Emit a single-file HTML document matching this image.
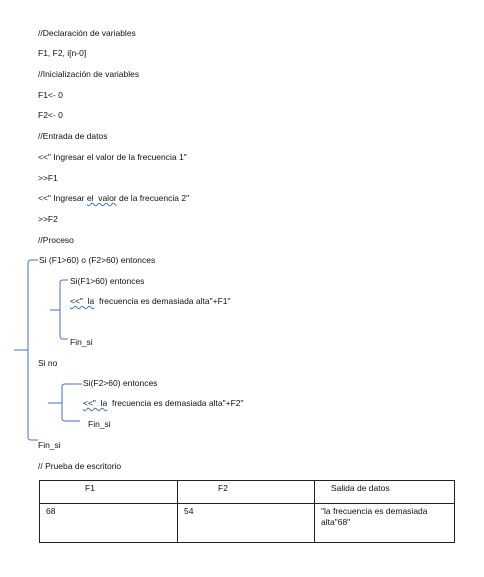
<!DOCTYPE html>
<html><head><style>
body{margin:0;width:484px;height:577px;background:#fff;position:relative;font-family:"Liberation Sans",sans-serif;font-size:8.5px;color:#111;overflow:hidden}
.t{position:absolute;white-space:nowrap;line-height:10px}
.w{text-decoration:underline wavy #4472c4;text-decoration-thickness:1px}
table{position:absolute;left:39px;top:480px;width:415px;height:63px;border-collapse:collapse;table-layout:fixed}
td{border:1px solid #222;vertical-align:top;padding:2px 6px;font-size:8.5px;line-height:11px}
</style></head><body>
<div class="t" style="left:38px;top:28px">//Declaración de variables</div>
<div class="t" style="left:38px;top:48px">F1, F2, i[n-0]</div>
<div class="t" style="left:38px;top:69px">//Inicialización de variables</div>
<div class="t" style="left:38px;top:90px">F1&lt;- 0</div>
<div class="t" style="left:38px;top:110px">F2&lt;- 0</div>
<div class="t" style="left:38px;top:131px">//Entrada de datos</div>
<div class="t" style="left:38px;top:152px">&lt;&lt;" Ingresar el valor de la frecuencia 1"</div>
<div class="t" style="left:38px;top:173px">&gt;&gt;F1</div>
<div class="t" style="left:38px;top:193px">&lt;&lt;" Ingresar <span class="w">el&nbsp; valor</span> de la frecuencia 2"</div>
<div class="t" style="left:38px;top:214px">&gt;&gt;F2</div>
<div class="t" style="left:38px;top:235px">//Proceso</div>
<div class="t" style="left:39px;top:255px">Si (F1&gt;60) o (F2&gt;60) entonces</div>
<div class="t" style="left:70px;top:276px">Si(F1&gt;60) entonces</div>
<div class="t" style="left:70px;top:296px"><span class="w">&lt;&lt;"&nbsp; la</span>&nbsp; frecuencia es demasiada alta"+F1"</div>
<div class="t" style="left:70px;top:337px">Fin_si</div>
<div class="t" style="left:38px;top:358px">Si no</div>
<div class="t" style="left:83px;top:378px">Si(F2&gt;60) entonces</div>
<div class="t" style="left:83px;top:398px"><span class="w">&lt;&lt;"&nbsp; la</span>&nbsp; frecuencia es demasiada alta"+F2"</div>
<div class="t" style="left:88px;top:419px">Fin_si</div>
<div class="t" style="left:38px;top:440px">Fin_si</div>
<div class="t" style="left:38px;top:461px">// Prueba de escritorio</div>
<svg width="484" height="577" style="position:absolute;left:0;top:0" fill="none" stroke="#4472c4" stroke-width="1">
<path d="M38 260H31Q28 260 28 263V437Q28 440 31 440H38"/>
<path d="M14 350H28"/>
<path d="M68 280H63Q60 280 60 283V336Q60 339 63 339H68"/>
<path d="M50 310H60"/>
<path d="M82 384H65Q62 384 62 387V418Q62 421 65 421H80"/>
<path d="M48 403H62"/>
</svg>
<table>
<colgroup><col style="width:138px"><col style="width:137px"><col style="width:140px"></colgroup>
<tr style="height:23px"><td style="padding-left:45px">F1</td><td style="padding-left:40px">F2</td><td style="padding-left:16px">Salida de datos</td></tr>
<tr><td>68</td><td>54</td><td>"la frecuencia es demasiada alta"68"</td></tr>
</table>
</body></html>
